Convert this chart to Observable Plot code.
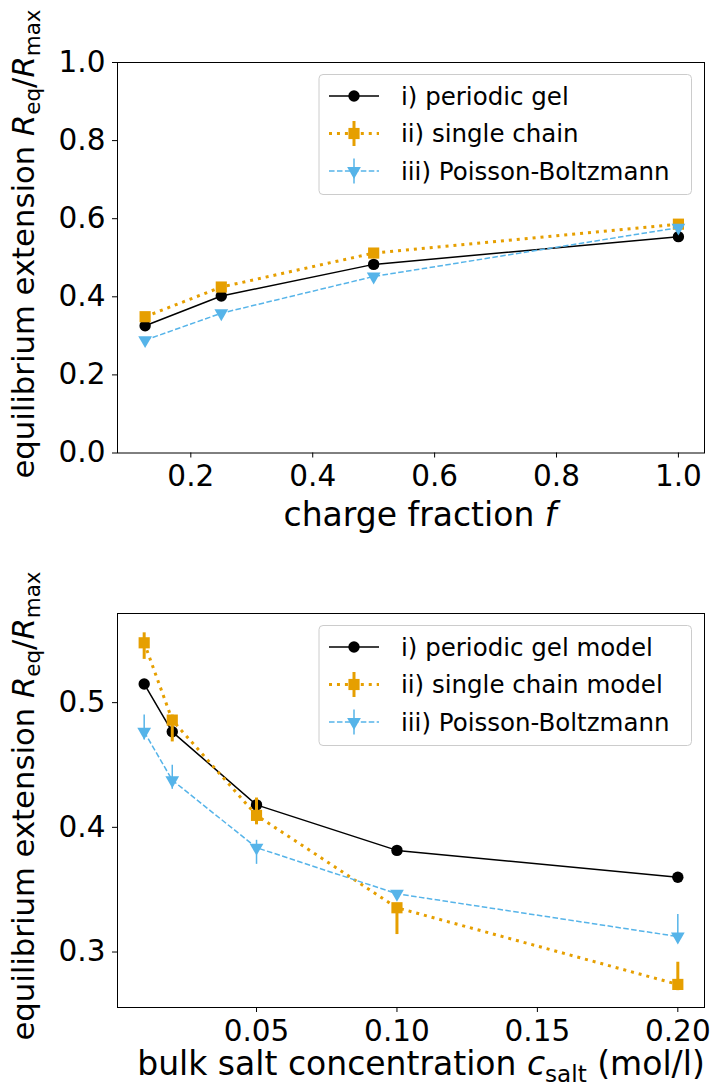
<!DOCTYPE html>
<html><head><meta charset="utf-8">
<script src="https://cdn.jsdelivr.net/npm/d3@7"></script>
<script src="https://cdn.jsdelivr.net/npm/@observablehq/plot@0.6"></script>
<style>
body{margin:0;background:#fff;}
#chart{width:710px;height:1087px;position:relative;overflow:hidden;}
#chart svg{display:block;}
</style></head><body><div id="chart"></div>
<script>
// ---------- data: top panel (charge fraction) ----------
const fracX = [0.125, 0.25, 0.5, 1.0];
const gelFrac = [0.326, 0.402, 0.483, 0.554];
const chainFrac = [0.349, 0.425, 0.512, 0.586];
const pbFrac = [0.289, 0.358, 0.452, 0.577];
const fracXTicks = [0.2, 0.4, 0.6, 0.8, 1.0];
const fracYTicks = [0.0, 0.2, 0.4, 0.6, 0.8, 1.0];

// ---------- data: bottom panel (salt concentration) ----------
const saltX = [0.01, 0.02, 0.05, 0.1, 0.2];
const gelSalt = [0.515, 0.4766, 0.418, 0.3815, 0.360];
const chainSalt = [0.548, 0.486, 0.4096, 0.3355, 0.274];
const chainSaltLo = [0.5347, 0.4685, 0.402, 0.314, 0.269];
const chainSaltHi = [0.556, 0.490, 0.4235, 0.338, 0.2918];
const pbSalt = [0.4766, 0.4378, 0.3837, 0.3467, 0.3124];
const pbSaltLo = [0.470, 0.4305, 0.3703, 0.3437, 0.3079];
const pbSaltHi = [0.490, 0.4498, 0.3896, 0.3493, 0.330];
const saltXTicks = [0.05, 0.10, 0.15, 0.20];
const saltYTicks = [0.3, 0.4, 0.5];

const namesTop = ["i) periodic gel", "ii) single chain", "iii) Poisson-Boltzmann"];
const namesBottom = ["i) periodic gel model", "ii) single chain model", "iii) Poisson-Boltzmann"];
const colors = ["#000000", "#E69F00", "#56B4E9"];

// ---------- styles ----------
const lineStyles = [
  {strokeWidth: 1.5, dash: null},
  {strokeWidth: 3, dash: "3,4.95"},
  {strokeWidth: 1.5, dash: "5.55,2.4"}
];
const markerStyles = [
  {symbol: "circle", r: 5.7, rotate: 0},
  {symbol: "square", r: 6.3, rotate: 0},
  {symbol: "triangle", r: 5.1, rotate: 180}
];
const errWidths = [1.5, 3, 1.5];
const FONT = "DejaVu Sans";
const TICKFS = 29.5;
const YLABFS = 30.7;
const XLABFS = 33;
const LEGFS = 24.5;

(function () {
function rows(xs, ys, lo, hi) {
  return xs.map((x, i) => ({x, y: ys[i], lo: lo ? lo[i] : null, hi: hi ? hi[i] : null}));
}

function seriesMarks(data, k) {
  const ls = lineStyles[k], ms = markerStyles[k];
  const m = [];
  m.push(Plot.line(data, {x: "x", y: "y", stroke: colors[k], strokeWidth: ls.strokeWidth,
    strokeDasharray: ls.dash, strokeLinecap: "butt", strokeLinejoin: "round"}));
  if (data[0].lo != null) {
    m.push(Plot.ruleX(data, {x: "x", y1: "lo", y2: "hi", stroke: colors[k], strokeWidth: errWidths[k]}));
  }
  m.push(Plot.dot(data, {x: "x", y: "y", symbol: ms.symbol, r: ms.r, rotate: ms.rotate, fill: colors[k], stroke: "none"}));
  return m;
}

function makePlot(opts) {
  return Plot.plot({
    width: 710,
    height: opts.height,
    marginTop: opts.marginTop,
    marginBottom: opts.marginBottom,
    marginLeft: 117,
    marginRight: 6,
    style: {fontFamily: FONT, fontSize: TICKFS + "px", background: "white", color: "black", overflow: "visible"},
    x: {domain: opts.xDomain, label: null},
    y: {domain: opts.yDomain, label: null},
    marks: [
      ...opts.series.flatMap((d, k) => seriesMarks(d, k)),
      Plot.frame({stroke: "black", strokeWidth: 1}),
      Plot.axisX({ticks: opts.xTicks, tickFormat: opts.xFormat, tickSize: 5, tickPadding: 7.5, label: null, stroke: "black", fill: "black"}),
      Plot.axisY({ticks: opts.yTicks, tickFormat: opts.yFormat, tickSize: 5, tickPadding: 7, label: null, stroke: "black", fill: "black"})
    ]
  });
}

function addText(svg, parts, attrs, fs) {
  const t = svg.append("text")
    .attr("font-family", FONT)
    .attr("font-size", fs)
    .attr("fill", "black")
    .attr("text-anchor", "middle");
  for (const [k, v] of Object.entries(attrs)) t.attr(k, v);
  let shift = 0;
  for (const p of parts) {
    const ts = t.append("tspan").text(p.t);
    let target = 0;
    if (p.sub) { ts.attr("font-size", fs * 0.7); target = fs * 0.2; }
    if (p.it) ts.attr("font-style", "italic");
    if (target !== shift) { ts.attr("dy", target - shift); shift = target; }
  }
  return t;
}

function yLabelParts() {
  return [{t: "equilibrium extension "}, {t: "R", it: true}, {t: "eq", sub: true}, {t: "/"}, {t: "R", it: true}, {t: "max", sub: true}];
}

function addLegend(svg, boxTop, names) {
  const left = 319, right = 691.5, h = 120;
  const g = svg.append("g");
  g.append("rect").attr("x", left).attr("y", boxTop).attr("width", right - left).attr("height", h)
    .attr("rx", 4).attr("fill", "white").attr("fill-opacity", 0.8).attr("stroke", "#cccccc").attr("stroke-width", 1);
  names.forEach((name, k) => {
    const cy = boxTop + 21.5 + k * 37.5;
    const ls = lineStyles[k], ms = markerStyles[k];
    const ln = g.append("line").attr("x1", 329).attr("x2", 379).attr("y1", cy).attr("y2", cy)
      .attr("stroke", colors[k]).attr("stroke-width", ls.strokeWidth);
    if (ls.dash) ln.attr("stroke-dasharray", ls.dash);
    if (k > 0) {
      g.append("line").attr("x1", 354).attr("x2", 354).attr("y1", cy - 12.5).attr("y2", cy + 12.5)
        .attr("stroke", colors[k]).attr("stroke-width", errWidths[k]);
    }
    const symType = {circle: d3.symbolCircle, square: d3.symbolSquare, triangle: d3.symbolTriangle}[ms.symbol];
    g.append("path").attr("d", d3.symbol(symType, ms.r * ms.r * Math.PI)())
      .attr("transform", `translate(354,${cy}) rotate(${ms.rotate})`).attr("fill", colors[k]);
    g.append("text").attr("x", 401).attr("y", cy).attr("dy", "0.36em")
      .attr("text-anchor", "start")
      .attr("font-family", FONT).attr("font-size", LEGFS).attr("fill", "black").text(name);
  });
}

const chart = document.getElementById("chart");

// ----- top panel -----
const topPlot = makePlot({
  height: 540, marginTop: 62, marginBottom: 87.5,
  xDomain: [0.0797, 1.0428], yDomain: [0, 1],
  xTicks: fracXTicks, yTicks: fracYTicks, xFormat: d3.format(".1f"), yFormat: d3.format(".1f"),
  series: [rows(fracX, gelFrac), rows(fracX, chainFrac), rows(fracX, pbFrac)]
});
chart.appendChild(topPlot);
{
  const svg = d3.select(topPlot);
  addLegend(svg, 74.5, namesTop);
  addText(svg, yLabelParts(), {transform: "translate(34,244) rotate(-90)"}, YLABFS);
  addText(svg, [{t: "charge fraction "}, {t: "f", it: true}], {x: 420, y: 526}, XLABFS);
}

// ----- bottom panel -----
const bottomPlot = makePlot({
  height: 547, marginTop: 73, marginBottom: 80,
  xDomain: [0.0005, 0.2095], yDomain: [0.2555, 0.5715],
  xTicks: saltXTicks, yTicks: saltYTicks, xFormat: d3.format(".2f"), yFormat: d3.format(".1f"),
  series: [rows(saltX, gelSalt), rows(saltX, chainSalt, chainSaltLo, chainSaltHi), rows(saltX, pbSalt, pbSaltLo, pbSaltHi)]
});
chart.appendChild(bottomPlot);
{
  const svg = d3.select(bottomPlot);
  addLegend(svg, 85.5, namesBottom);
  addText(svg, yLabelParts(), {transform: "translate(34,266) rotate(-90)"}, YLABFS);
  addText(svg, [{t: "bulk salt concentration "}, {t: "c", it: true}, {t: "salt", sub: true}, {t: " (mol/l)"}], {x: 421, y: 535}, XLABFS);
}
})();
</script></body></html>
